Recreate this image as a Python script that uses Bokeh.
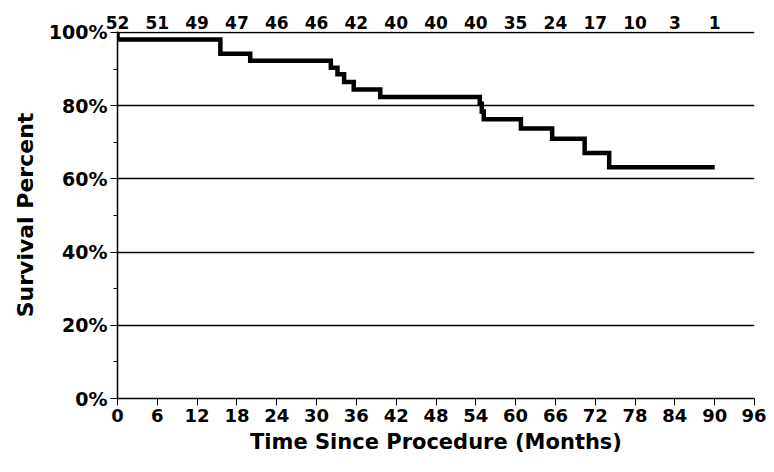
from bokeh.plotting import figure
from bokeh.models import (ColumnDataSource, SingleIntervalTicker, FixedTicker, LinearAxis,
                          PrintfTickFormatter, Range1d)
from bokeh.embed import file_html
from bokeh.resources import INLINE

# Kaplan-Meier step data (months, survival %)
times = [0, 0, 15.5, 20.0, 32.15, 33.15, 34.15, 35.6, 39.6, 54.6, 54.9, 55.2, 60.8, 65.5, 70.4, 74.1, 90]
surv = [100, 98.1, 94.2, 92.3, 90.4, 88.6, 86.5, 84.4, 82.4, 80.5, 78.4, 76.3, 73.8, 71.0, 67.1, 63.2, 63.2]

# Numbers at risk
risk_months = [0, 6, 12, 18, 24, 30, 36, 42, 48, 54, 60, 66, 72, 78, 84, 90]
risk_counts = ["52", "51", "49", "47", "46", "46", "42", "40", "40", "40", "35", "24", "17", "10", "3", "1"]

FONT = "DejaVu Sans"

p = figure(width=766, height=456, x_range=Range1d(0, 96), y_range=Range1d(0, 100.27),
           output_backend="svg", toolbar_location=None,
           min_border_left=117, min_border_right=12, min_border_top=31, min_border_bottom=57)
p.outline_line_color = None
p.background_fill_color = "white"
p.border_fill_color = "white"

# grid
p.xgrid.visible = False
p.ygrid.grid_line_color = "black"
p.ygrid.grid_line_width = 1.5

# x axis
p.xaxis.ticker = SingleIntervalTicker(interval=6, num_minor_ticks=0)
p.xaxis.axis_line_color = "black"
p.xaxis.axis_line_width = 1.5
p.xaxis.major_tick_line_color = "black"
p.xaxis.major_tick_line_width = 1
p.xaxis.major_tick_in = 0
p.xaxis.major_tick_out = 7
p.xaxis.minor_tick_line_color = None
p.xaxis.major_label_standoff = 3
p.xaxis.major_label_text_font = FONT
p.xaxis.major_label_text_font_style = "bold"
p.xaxis.major_label_text_font_size = "18px"
p.xaxis.major_label_text_color = "black"
p.xaxis.axis_label = "Time Since Procedure (Months)"
p.xaxis.axis_label_text_font = FONT
p.xaxis.axis_label_text_font_style = "bold"
p.xaxis.axis_label_text_font_size = "21px"
p.xaxis.axis_label_text_color = "black"
p.xaxis.axis_label_standoff = 5

# y axis
p.yaxis.ticker = SingleIntervalTicker(interval=20, num_minor_ticks=2)
p.yaxis.formatter = PrintfTickFormatter(format="%d%%")
p.yaxis.axis_line_color = "black"
p.yaxis.axis_line_width = 1.5
p.yaxis.major_tick_line_color = "black"
p.yaxis.major_tick_in = 0
p.yaxis.major_tick_out = 7
p.yaxis.minor_tick_line_color = "black"
p.yaxis.minor_tick_in = 0
p.yaxis.minor_tick_out = 4
p.yaxis.major_label_standoff = 3
p.yaxis.major_label_text_font = FONT
p.yaxis.major_label_text_font_style = "bold"
p.yaxis.major_label_text_font_size = "19px"
p.yaxis.major_label_text_color = "black"
p.yaxis.axis_label = "Survival Percent"
p.yaxis.axis_label_text_font = FONT
p.yaxis.axis_label_text_font_style = "bold"
p.yaxis.axis_label_text_font_size = "22px"
p.yaxis.axis_label_text_color = "black"
p.yaxis.axis_label_standoff = 8

# numbers at risk as a top axis
top = LinearAxis(ticker=FixedTicker(ticks=risk_months),
                 major_label_overrides={m: c for m, c in zip(risk_months, risk_counts)})
top.axis_line_color = None
top.major_tick_line_color = None
top.minor_tick_line_color = None
top.major_tick_out = 0
top.major_tick_in = 0
top.major_label_standoff = 3
top.major_label_text_font = FONT
top.major_label_text_font_style = "bold"
top.major_label_text_font_size = "17px"
top.major_label_text_color = "black"
p.add_layout(top, "above")

# survival curve
src = ColumnDataSource(dict(t=times, s=surv))
p.step(x="t", y="s", source=src, mode="after", line_width=4.5, line_color="black",
       line_join="miter")

open("out.html", "w").write(file_html(p, INLINE))
